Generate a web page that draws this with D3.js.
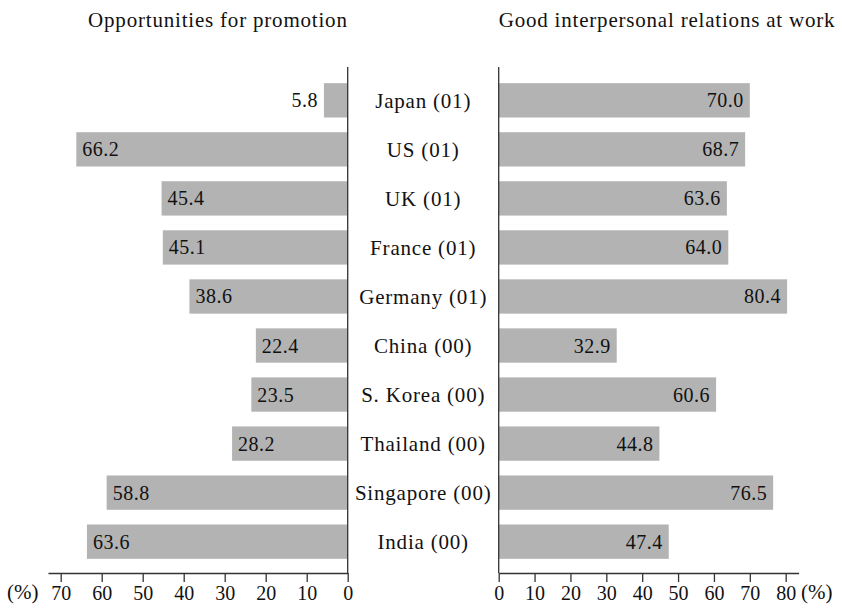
<!DOCTYPE html>
<html>
<head>
<meta charset="utf-8">
<script src="https://cdn.jsdelivr.net/npm/d3@7"></script>
<style>
body{margin:0;background:#fff;}
svg text{font-family:"Liberation Serif","DejaVu Serif",serif;font-variant-numeric:oldstyle-nums;fill:#111;}
</style>
</head>
<body>
<div id="chart"></div>
<script>
var categories = ["Japan (01)", "US (01)", "UK (01)", "France (01)", "Germany (01)", "China (00)", "S. Korea (00)", "Thailand (00)", "Singapore (00)", "India (00)"];
var promotion = [5.8, 66.2, 45.4, 45.1, 38.6, 22.4, 23.5, 28.2, 58.8, 63.6];
var relations = [70.0, 68.7, 63.6, 64.0, 80.4, 32.9, 60.6, 44.8, 76.5, 47.4];
var leftTicks = [0, 10, 20, 30, 40, 50, 60, 70];
var rightTicks = [0, 10, 20, 30, 40, 50, 60, 70, 80];
var leftTitle = "Opportunities for promotion";
var rightTitle = "Good interpersonal relations at work";

var width = 842, height = 608;
var fs = 21;      // words
var fsNum = 20;   // numbers
var ls = "0.8px";
var lsNum = "0.5px";
var barColor = "#b3b3b3";
var axisY = 573;

var svg = d3.select("#chart").append("svg")
	.attr("width", width)
	.attr("height", height);

// scales
var yscale = d3.scaleBand()
	.domain(categories)
	.range([66, 576])
	.paddingInner(0.3)
	.paddingOuter(0.35);

var xleft = d3.scaleLinear()
	.domain([0, 73.1])
	.range([347.7, 48]);

var xright = d3.scaleLinear()
	.domain([0, 83.6])
	.range([498.7, 798.6]);

var rows = categories.map(function(c, i) {
	return {name: c, left: promotion[i], right: relations[i]};
});

// left bars
svg.selectAll(".lbar")
	.data(rows)
	.enter().append("rect")
	.attr("class", "lbar")
	.attr("x", function(d) { return xleft(d.left); })
	.attr("y", function(d) { return yscale(d.name); })
	.attr("width", function(d) { return xleft(0) - xleft(d.left); })
	.attr("height", yscale.bandwidth())
	.style("fill", barColor);

// right bars
svg.selectAll(".rbar")
	.data(rows)
	.enter().append("rect")
	.attr("class", "rbar")
	.attr("x", xright(0))
	.attr("y", function(d) { return yscale(d.name); })
	.attr("width", function(d) { return xright(d.right) - xright(0); })
	.attr("height", yscale.bandwidth())
	.style("fill", barColor);

// left value labels (short bar -> label outside)
svg.selectAll(".lval")
	.data(rows)
	.enter().append("text")
	.attr("class", "lval")
	.attr("x", function(d) {
		var w = xleft(0) - xleft(d.left);
		return w < 40 ? xleft(d.left) - 6 : xleft(d.left) + 6;
	})
	.attr("y", function(d) { return yscale(d.name) + yscale.bandwidth() / 2; })
	.attr("dy", "0.35em")
	.attr("text-anchor", function(d) {
		return (xleft(0) - xleft(d.left)) < 40 ? "end" : "start";
	})
	.attr("font-size", fsNum)
	.style("letter-spacing", lsNum)
	.text(function(d) { return d.left.toFixed(1); });

// right value labels
svg.selectAll(".rval")
	.data(rows)
	.enter().append("text")
	.attr("class", "rval")
	.attr("x", function(d) { return xright(d.right) - 6; })
	.attr("y", function(d) { return yscale(d.name) + yscale.bandwidth() / 2; })
	.attr("dy", "0.35em")
	.attr("text-anchor", "end")
	.attr("font-size", fsNum)
	.style("letter-spacing", lsNum)
	.text(function(d) { return d.right.toFixed(1); });

// category labels
svg.selectAll(".cat")
	.data(rows)
	.enter().append("text")
	.attr("class", "cat")
	.attr("x", (xleft(0) + xright(0)) / 2)
	.attr("y", function(d) { return yscale(d.name) + yscale.bandwidth() / 2; })
	.attr("dy", "0.35em")
	.attr("text-anchor", "middle")
	.attr("font-size", fs)
	.style("letter-spacing", ls)
	.text(function(d) { return d.name; });

// vertical zero lines
svg.append("line")
	.attr("x1", xleft(0)).attr("x2", xleft(0))
	.attr("y1", 67).attr("y2", axisY)
	.attr("stroke", "#333").attr("stroke-width", 1.3);
svg.append("line")
	.attr("x1", xright(0)).attr("x2", xright(0))
	.attr("y1", 67).attr("y2", axisY)
	.attr("stroke", "#333").attr("stroke-width", 1.3);

// axes
var lax = svg.append("g")
	.attr("transform", "translate(0," + axisY + ")")
	.call(d3.axisBottom(xleft).tickValues(leftTicks).tickSize(9).tickSizeOuter(0).tickFormat(d3.format("d")));
var rax = svg.append("g")
	.attr("transform", "translate(0," + axisY + ")")
	.call(d3.axisBottom(xright).tickValues(rightTicks).tickSize(9).tickSizeOuter(0).tickFormat(d3.format("d")));

[lax, rax].forEach(function(g) {
	g.select(".domain").attr("stroke", "#333").attr("stroke-width", 1.3);
	g.selectAll(".tick line").attr("stroke", "#333").attr("stroke-width", 1.3);
	g.selectAll(".tick text")
		.attr("font-size", fsNum)
		.attr("y", 13)
		.style("fill", "#111");
	g.attr("font-family", null).attr("font-size", null);
});

svg.append("text")
	.attr("x", 7).attr("y", 599)
	.attr("font-size", fs)
	.text("(%)");
svg.append("text")
	.attr("x", 801).attr("y", 599)
	.attr("font-size", fs)
	.text("(%)");

// titles
svg.append("text")
	.attr("x", xleft(0)).attr("y", 27)
	.attr("text-anchor", "end")
	.attr("font-size", fs)
	.style("letter-spacing", ls)
	.text(leftTitle);
svg.append("text")
	.attr("x", xright(0)).attr("y", 27)
	.attr("font-size", fs)
	.style("letter-spacing", ls)
	.text(rightTitle);
</script>
</body>
</html>
